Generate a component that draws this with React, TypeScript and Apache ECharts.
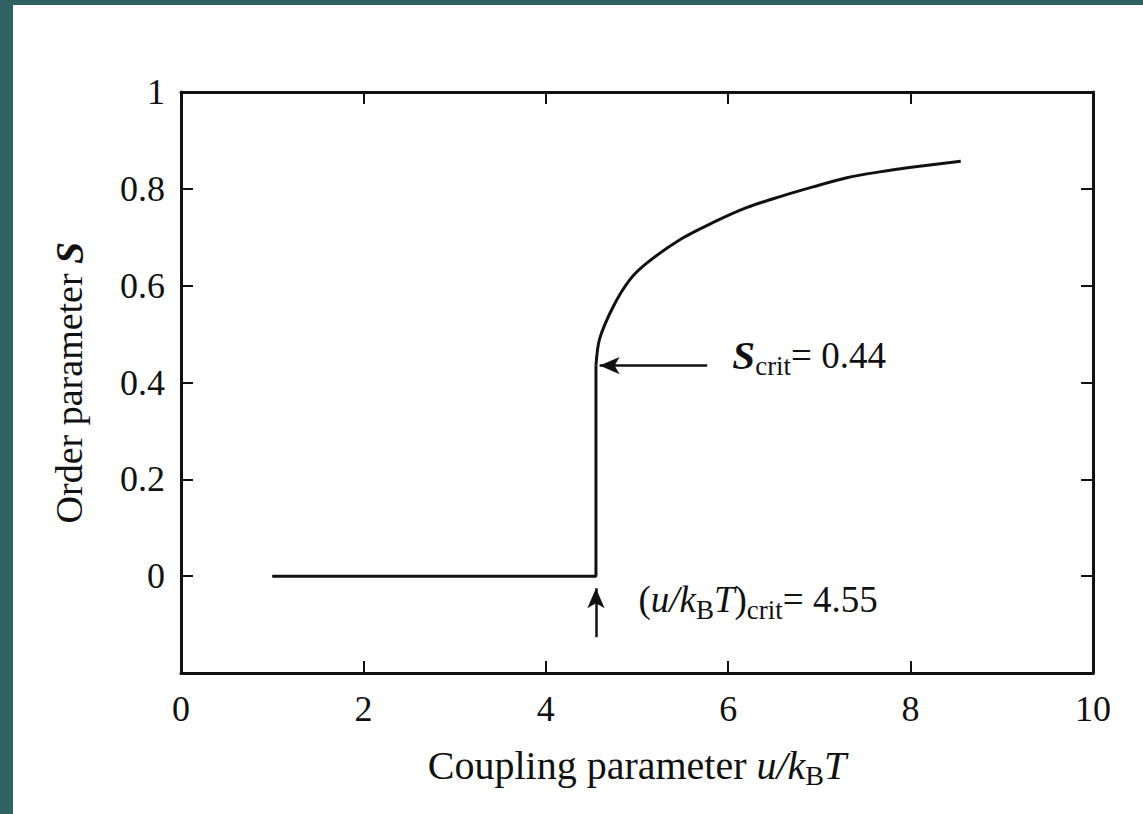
import React, { useEffect, useRef } from "react";
import * as echarts from "echarts";

// Data
const stepX = [1, 4.55, 4.55];
const stepY = [0, 0, 0.435];
const curveX = [4.55, 4.59, 4.74, 4.92, 5.11, 5.47, 5.83, 6.2, 6.57, 6.93, 7.3, 7.66, 8.03, 8.55];
const curveY = [0.435, 0.49, 0.557, 0.612, 0.647, 0.695, 0.73, 0.761, 0.784, 0.804, 0.823, 0.835, 0.845, 0.857];
const xMin = 0;
const xMax = 10;
const xStep = 2;
const yMin = -0.2;
const yMax = 1;
const yStep = 0.2;
const sCritArrow = [[5.77, 0.435], [4.59, 0.435]];
const uCritArrow = [[4.55, -0.126], [4.55, -0.025]];
const sCritTextPos = [6.04, 0.456];
const uCritTextPos = [5.01, -0.049];
const sCritText = "{b|S}{s|crit}{n|= 0.44}";
const uCritText = "{n|(}{i|u/k}{s|B}{i|T}{n|)}{s|crit}{n|= 4.55}";

const FAMILY = "'Liberation Serif', 'Times New Roman', serif";
const INK = "#111111";
const TEAL = "#2f6262";

export default function App() {
  const ref = useRef<HTMLDivElement>(null);
  useEffect(() => {
    const chart = echarts.init(ref.current!, null, { renderer: "svg" });
    const stepData = stepX.map((x, i) => [x, stepY[i]]);
    const curveData = curveX.map((x, i) => [x, curveY[i]]);
    const axisCommon = {
      type: "value",
      splitLine: { show: false },
      axisLine: { show: true, onZero: false, lineStyle: { color: INK, width: 3 } },
      axisTick: { show: true, inside: true, length: 12, lineStyle: { color: INK, width: 2 } },
    };
    const fmtY = (v: number) => (v < -0.1 ? "" : String(Math.round(v * 10) / 10));
    const annRich = {
      n: { fontFamily: FAMILY, fontSize: 37, fontStyle: "normal", fontWeight: "normal", color: INK },
      i: { fontFamily: FAMILY, fontSize: 37, fontStyle: "italic", fontWeight: "normal", color: INK },
      b: { fontFamily: FAMILY, fontSize: 41, fontStyle: "italic", fontWeight: "bold", color: INK },
      s: { fontFamily: FAMILY, fontSize: 27, fontStyle: "normal", fontWeight: "normal", color: INK, verticalAlign: "bottom", height: 25 },
    };
    const option: any = {
      animation: false,
      backgroundColor: "#ffffff",
      textStyle: { fontFamily: FAMILY, color: INK },
      grid: { left: 181, top: 92, width: 912, height: 581, containLabel: false },
      xAxis: [
        {
          ...axisCommon,
          position: "bottom",
          min: xMin,
          max: xMax,
          interval: xStep,
          axisLabel: { show: true, fontFamily: FAMILY, fontSize: 36, color: INK, margin: 18 },
          name: "{n|Coupling parameter }{i|u/k}{s|B}{i|T}",
          nameLocation: "middle",
          nameGap: 69,
          nameTextStyle: {
            fontFamily: FAMILY,
            fontSize: 40,
            color: INK,
            lineHeight: 46,
            rich: {
              n: { fontFamily: FAMILY, fontSize: 40, color: INK },
              i: { fontFamily: FAMILY, fontSize: 40, fontStyle: "italic", color: INK },
              s: { fontFamily: FAMILY, fontSize: 28, color: INK, verticalAlign: "bottom", height: 25 },
            },
          },
        },
        {
          ...axisCommon,
          position: "top",
          min: xMin,
          max: xMax,
          interval: xStep,
          axisLabel: { show: false },
        },
      ],
      yAxis: [
        {
          ...axisCommon,
          position: "left",
          min: yMin,
          max: yMax,
          interval: yStep,
          axisLabel: { show: true, fontFamily: FAMILY, fontSize: 36, color: INK, margin: 16, formatter: fmtY },
          name: "{n|Order parameter }{b|S}",
          nameLocation: "middle",
          nameGap: 92,
          nameTextStyle: {
            fontFamily: FAMILY,
            fontSize: 38,
            color: INK,
            rich: {
              n: { fontFamily: FAMILY, fontSize: 38, color: INK },
              b: { fontFamily: FAMILY, fontSize: 40, fontStyle: "italic", fontWeight: "bold", color: INK },
            },
          },
        },
        {
          ...axisCommon,
          position: "right",
          min: yMin,
          max: yMax,
          interval: yStep,
          axisLabel: { show: false },
        },
      ],
      series: [
        {
          type: "line",
          data: stepData,
          showSymbol: false,
          symbol: "none",
          lineStyle: { color: INK, width: 3 },
          silent: true,
        },
        {
          type: "line",
          data: curveData,
          showSymbol: false,
          symbol: "none",
          smooth: 0.3,
          lineStyle: { color: INK, width: 3 },
          silent: true,
          markLine: {
            silent: true,
            symbol: ["none", "arrow"],
            symbolSize: [13, 20],
            label: { show: false },
            lineStyle: { color: INK, width: 2.5, type: "solid" },
            data: [
              [{ coord: sCritArrow[0] }, { coord: sCritArrow[1] }],
              [{ coord: uCritArrow[0] }, { coord: uCritArrow[1] }],
            ],
          },
        },
        {
          type: "scatter",
          silent: true,
          symbolSize: 1,
          itemStyle: { color: "rgba(0,0,0,0)", opacity: 1 },
          label: {
            show: true,
            position: "right",
            distance: 0,
            align: "left",
            verticalAlign: "middle",
            fontFamily: FAMILY,
            fontSize: 37,
            fontStyle: "normal",
            fontWeight: "normal",
            color: INK,
            opacity: 1,
            lineHeight: 46,
            rich: annRich,
          },
          data: [
            { value: sCritTextPos, label: { formatter: sCritText } },
            { value: uCritTextPos, label: { formatter: uCritText } },
          ],
        },
      ],
      graphic: [
        { id: "tealLeft", type: "rect", z: 100, shape: { x: 0, y: 0, width: 13, height: 814 }, style: { fill: TEAL } },
        { id: "tealTop", type: "rect", z: 100, shape: { x: 0, y: 0, width: 1143, height: 5 }, style: { fill: TEAL } },
      ],
    };
    chart.setOption(option);
    return () => chart.dispose();
  }, []);
  return (
    <div style={{ position: "fixed", left: 0, top: 0, width: 1143, height: 814, background: "#ffffff" }}>
      <div ref={ref} style={{ width: 1143, height: 814 }} />
    </div>
  );
}
